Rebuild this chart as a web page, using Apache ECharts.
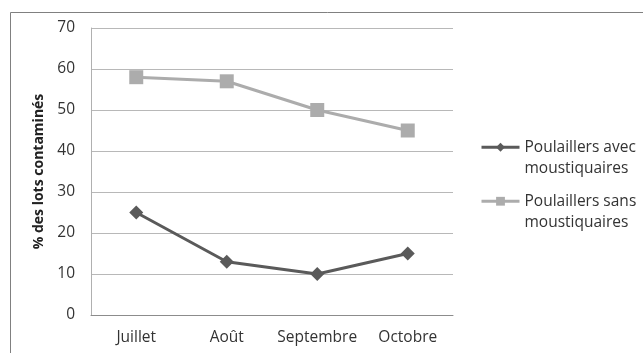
<!DOCTYPE html>
<html>
<head>
<meta charset="utf-8">
<script src="https://cdn.jsdelivr.net/npm/echarts@6/dist/echarts.min.js"></script>
<style>
  html, body { margin: 0; padding: 0; background: #ffffff; }
  #chart { width: 643px; height: 353px; }
</style>
</head>
<body>
<div id="chart"></div>
<script>
// Monthly share of contaminated batches, by henhouse type
const months = ['Juillet', 'Août', 'Septembre', 'Octobre'];
const avecMoustiquaires = [25, 13, 10, 15];
const sansMoustiquaires = [58, 57, 50, 45];
const yTicks = [0, 10, 20, 30, 40, 50, 60, 70];
const seriesNames = ['Poulaillers avec\nmoustiquaires', 'Poulaillers sans\nmoustiquaires'];

const FONT = '"Open Sans", "DejaVu Sans", sans-serif';
const chart = echarts.init(document.getElementById('chart'), null, { renderer: 'canvas' });

// One legend block per series; a leading blank line keeps the icon level with the first text line
function legendFor(name, top) {
  return {
    orient: 'vertical',
    left: 475, top: top,
    itemWidth: 38, itemHeight: 11,
    lineStyle: { width: 3 },
    data: [name],
    formatter: n => ' \n' + n,
    textStyle: { fontFamily: FONT, fontSize: 15.5, color: '#333333', lineHeight: 21.5 }
  };
}

chart.setOption({
  animation: false,
  backgroundColor: '#ffffff',
  graphic: [{
    type: 'rect',
    left: 8, top: 10,
    shape: { width: 640, height: 350 },
    style: { fill: 'none', stroke: '#808080', lineWidth: 1 },
    silent: true, z: -1
  }],
  grid: { left: 91, top: 28, width: 362, height: 287, containLabel: false },
  legend: [legendFor(seriesNames[0], 110), legendFor(seriesNames[1], 164)],
  xAxis: {
    type: 'category',
    data: months,
    boundaryGap: true,
    axisLine: { show: true, lineStyle: { color: '#8c8c8c', width: 1 } },
    axisTick: { show: false },
    axisLabel: { interval: 0, fontFamily: FONT, fontSize: 15.5, color: '#333333', margin: 15 }
  },
  yAxis: {
    type: 'value',
    min: yTicks[0], max: yTicks[yTicks.length - 1], interval: 10,
    name: '% des lots contaminés',
    nameLocation: 'middle',
    nameGap: 44,
    nameTextStyle: { fontFamily: FONT, fontSize: 14, fontWeight: 'bold', color: '#222222' },
    axisLine: { show: true, lineStyle: { color: '#b0b0b0', width: 1 } },
    axisTick: { show: false },
    axisLabel: { fontFamily: FONT, fontSize: 15.5, color: '#333333', margin: 16 },
    splitLine: { show: true, lineStyle: { color: '#b8b8b8', width: 1 } }
  },
  series: [
    {
      name: seriesNames[0],
      type: 'line',
      data: avecMoustiquaires,
      symbol: 'diamond',
      symbolSize: 14,
      itemStyle: { color: '#5a5a5a' },
      lineStyle: { color: '#5a5a5a', width: 3 }
    },
    {
      name: seriesNames[1],
      type: 'line',
      data: sansMoustiquaires,
      symbol: 'rect',
      symbolSize: 14,
      itemStyle: { color: '#acacac' },
      lineStyle: { color: '#acacac', width: 3 }
    }
  ]
});
</script>
</body>
</html>
